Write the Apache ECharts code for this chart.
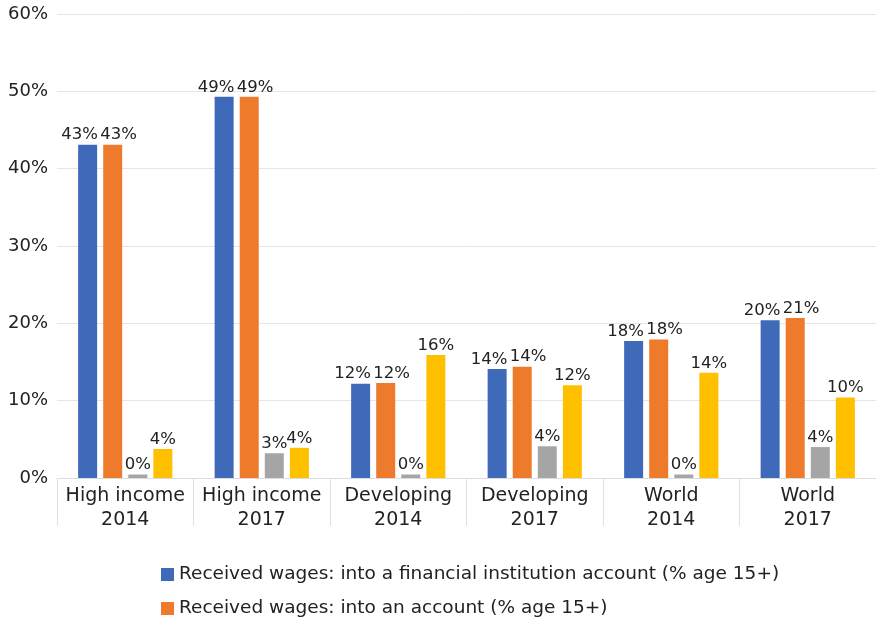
<!DOCTYPE html>
<html>
<head>
<meta charset="utf-8">
<script src="https://cdn.jsdelivr.net/npm/echarts@6/dist/echarts.min.js"></script>
<style>
  html, body { margin: 0; padding: 0; background: #fff; }
  #chart { width: 876px; height: 619px; }
</style>
</head>
<body>
<div id="chart"></div>
<script>
// Categories (region + survey year)
const categories = ['High income\n2014', 'High income\n2017', 'Developing\n2014', 'Developing\n2017', 'World\n2014', 'World\n2017'];

// Series values, percent of adults aged 15+
const financialInstitution = [43.1, 49.3, 12.2, 14.1, 17.7, 20.4];
const anyAccount = [43.1, 49.3, 12.3, 14.4, 17.9, 20.7];
const mobileMoney = [0.45, 3.2, 0.45, 4.1, 0.45, 4.0];
const cashOnly = [3.75, 3.9, 15.9, 12.0, 13.6, 10.4];

const seriesNames = [
  'Received wages: into a financial institution account (% age 15+)',
  'Received wages: into an account (% age 15+)',
  'Received wages: into a mobile money account (% age 15+)',
  'Received wages: in cash only (% age 15+)'
];
const seriesValues = [financialInstitution, anyAccount, mobileMoney, cashOnly];
const colors = ['#3F69B9', '#EE7A2C', '#A5A5A5', '#FFC000'];
// horizontal nudge of value labels so neighbouring labels don't collide
const labelShift = [-8, 6, 0, 0];

// Y axis ticks
const yTicks = [0, 10, 20, 30, 40, 50, 60];

const FONT = 'DejaVu Sans, sans-serif';

const legendBase = {
  orient: 'vertical',
  left: 156,
  itemWidth: 13,
  itemHeight: 13,
  icon: 'rect',
  textStyle: { fontSize: 18.5, color: '#222', fontFamily: FONT }
};

const chart = echarts.init(document.getElementById('chart'));
chart.setOption({
  animation: false,
  textStyle: { fontFamily: FONT },
  grid: { left: 57, right: 0, top: 14, bottom: 141, containLabel: false },
  legend: [
    Object.assign({}, legendBase, { data: [seriesNames[0]], top: 560 }),
    Object.assign({}, legendBase, { data: [seriesNames[1]], top: 594 })
  ],
  xAxis: {
    type: 'category',
    data: categories,
    axisLine: { lineStyle: { color: '#dcdcdc' } },
    axisTick: { show: true, interval: 0, length: 48, lineStyle: { color: '#e0e0e0' } },
    axisLabel: { interval: 0, fontSize: 19, color: '#222', lineHeight: 24, margin: 6 }
  },
  yAxis: {
    type: 'value',
    min: yTicks[0],
    max: yTicks[yTicks.length - 1],
    interval: 10,
    axisLine: { show: false },
    axisTick: { show: false },
    splitLine: { lineStyle: { color: '#e6e6e6' } },
    axisLabel: { fontSize: 18, color: '#222', margin: 9, formatter: v => v + '%' }
  },
  series: seriesNames.map((name, i) => ({
    name: name,
    type: 'bar',
    data: seriesValues[i],
    barWidth: 19,
    barGap: '32%',
    itemStyle: { color: colors[i] },
    label: {
      show: true,
      position: 'top',
      distance: 1,
      offset: [labelShift[i], 0],
      fontSize: 16.5,
      color: '#222',
      formatter: p => Math.round(p.value) + '%'
    }
  }))
});
</script>
</body>
</html>
